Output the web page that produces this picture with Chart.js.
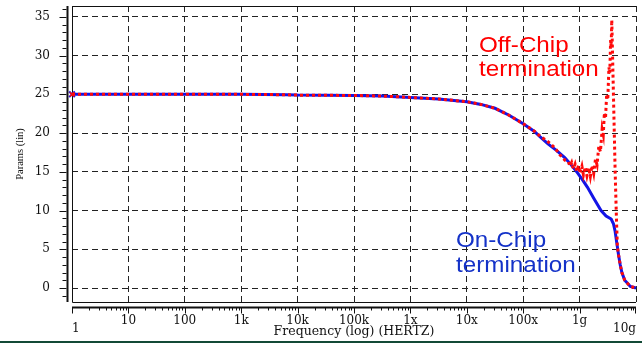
<!DOCTYPE html>
<html>
<head>
<meta charset="utf-8">
<script src="https://cdn.jsdelivr.net/npm/chart.js@4.4.1/dist/chart.umd.min.js"></script>
<style>
  html, body { margin: 0; padding: 0; background: #ffffff; }
  canvas { display: block; }
</style>
</head>
<body>
<canvas id="c" width="642" height="344"></canvas>
<script>
// Axis ticks
const freqTickValues = [1, 10, 100, 1e3, 1e4, 1e5, 1e6, 1e7, 1e8, 1e9, 1e10];
const freqTickLabels = ['1', '10', '100', '1k', '10k', '100k', '1x', '10x', '100x', '1g', '10g'];
const paramTickValues = [0, 5, 10, 15, 20, 25, 30, 35];

// On-chip termination sweep (Hz, value)
const onChipFreq = [1, 10, 100, 1e3, 6.3e3, 1e4, 1e5, 3.16e5, 1e6, 3.16e6, 1e7, 1.78e7, 3.16e7, 5.62e7,
  1e8, 1.58e8, 2e8, 2.75e8, 3.98e8, 5.5e8, 7.08e8, 9.12e8, 1.12e9, 1.38e9, 1.78e9, 2.4e9, 2.95e9,
  3.63e9, 3.98e9, 4.27e9, 4.57e9, 4.9e9, 5.25e9, 5.62e9, 6.31e9, 7.94e9, 1e10];
const onChipVals = [25.0, 25.0, 25.0, 25.0, 24.95, 24.9, 24.85, 24.78, 24.6, 24.4, 24.05, 23.7, 23.2, 22.3,
  21.2, 20.2, 19.5, 18.6, 17.7, 16.8, 15.9, 14.9, 14.0, 13.0, 11.6, 10.0, 9.3,
  8.9, 8.3, 7.3, 5.8, 4.3, 3.0, 2.0, 1.0, 0.2, 0.0];

// Off-chip termination sweep (Hz, value)
const offChipFreq = [1, 10, 100, 1e3, 6.3e3, 1e4, 1e5, 3.16e5, 1e6, 3.16e6, 1e7, 1.78e7, 3.16e7, 5.62e7,
  1e8, 1.58e8, 2e8, 2.75e8, 3.63e8, 4.47e8, 5.5e8, 6.31e8, 6.76e8, 7.24e8, 7.76e8, 8.32e8, 8.91e8,
  9.55e8, 1.02e9, 1.10e9, 1.17e9, 1.26e9, 1.35e9, 1.45e9, 1.55e9, 1.66e9, 1.78e9, 1.91e9, 2.04e9,
  2.19e9, 2.34e9, 2.51e9, 2.63e9, 2.75e9, 2.88e9, 3.02e9, 3.16e9, 3.31e9, 3.43e9, 3.55e9, 3.63e9,
  3.72e9, 3.98e9, 4.27e9, 4.52e9, 4.68e9, 4.9e9, 5.25e9, 5.62e9, 6.31e9, 7.94e9, 1e10];
const offChipVals = [25.0, 25.0, 25.0, 25.0, 24.95, 24.9, 24.85, 24.78, 24.6, 24.4, 24.05, 23.7, 23.2, 22.3,
  21.2, 20.25, 19.6, 18.9, 18.1, 17.2, 16.5, 16.3, 15.7, 16.2, 15.4, 16.0, 15.1,
  15.8, 14.8, 15.7, 14.6, 15.6, 14.5, 15.5, 14.4, 15.8, 14.8, 16.6, 15.9,
  18.3, 17.6, 20.5, 19.8, 22.6, 21.9, 25.0, 24.3, 28.5, 27.8, 32.0, 31.2,
  34.6, 25.0, 15.0, 8.5, 5.3, 4.3, 3.0, 2.0, 1.0, 0.2, 0.0];

const toPoints = (xs, ys) => xs.map((x, i) => ({ x: x, y: ys[i] }));

const BLUE = '#1414e6';
const RED = '#ff0a0a';
const INK = '#111111';

// Frame, offset axis lines and minor ticks
const axisDecor = {
  id: 'axisDecor',
  beforeDatasetsDraw(chart) {
    const { ctx, chartArea: a, scales: { x, y } } = chart;
    ctx.save();
    ctx.strokeStyle = INK;
    ctx.lineWidth = 1;
    ctx.beginPath();
    ctx.moveTo(a.left + 0.5, a.bottom + 0.5);
    ctx.lineTo(a.left + 0.5, a.top + 0.5);
    ctx.lineTo(a.right, a.top + 0.5);
    ctx.moveTo(a.left + 0.5, a.bottom + 0.5);
    ctx.lineTo(a.right, a.bottom + 0.5);
    ctx.stroke();

    // left axis
    const ax = a.left - 4.5;
    ctx.lineWidth = 2;
    ctx.beginPath();
    ctx.moveTo(ax, a.top);
    ctx.lineTo(ax, a.bottom);
    ctx.stroke();
    ctx.lineWidth = 1;
    ctx.beginPath();
    for (let v = Math.ceil(y.min); v <= Math.floor(y.max); v++) {
      const py = Math.round(y.getPixelForValue(v)) + 0.5;
      const len = v % 5 === 0 ? 7 : 4;
      ctx.moveTo(ax - 1, py);
      ctx.lineTo(ax - 1 - len, py);
    }
    ctx.stroke();

    // bottom axis
    const by = a.bottom + 5.5;
    ctx.lineWidth = 2;
    ctx.beginPath();
    ctx.moveTo(a.left, by);
    ctx.lineTo(a.right, by);
    ctx.stroke();
    ctx.lineWidth = 1;
    ctx.beginPath();
    for (let d = 1; d <= 1e10; d *= 10) {
      for (let m = 1; m <= 9; m++) {
        const v = d * m;
        if (v > 1e10) break;
        let px = Math.round(x.getPixelForValue(v)) + 0.5;
        if (px > a.right - 0.5) px = a.right - 0.5;
        const len = m === 1 ? 6 : 3;
        ctx.moveTo(px, by);
        ctx.lineTo(px, by + len);
      }
    }
    ctx.stroke();

    // slide rule at the bottom
    ctx.fillStyle = '#134a36';
    ctx.fillRect(0, 341, chart.width, 2);
    ctx.restore();
  }
};

// Curve annotations
const curveNotes = [
  { lines: ['Off-Chip', 'termination'], x: 479, y: [52, 76], color: '#ff0000' },
  { lines: ['On-Chip', 'termination'], x: 456, y: [247, 272], color: '#1432c8' }
];
const notesPlugin = {
  id: 'notes',
  afterDatasetsDraw(chart) {
    const ctx = chart.ctx;
    ctx.save();
    ctx.font = '22px "Liberation Sans", Arial, sans-serif';
    ctx.textBaseline = 'alphabetic';
    ctx.textAlign = 'left';
    curveNotes.forEach(n => {
      ctx.fillStyle = n.color;
      n.lines.forEach((t, i) => {
        ctx.save();
        ctx.translate(n.x, n.y[i]);
        ctx.scale(1.1, 1);
        ctx.fillText(t, 0, 0);
        ctx.restore();
      });
    });
    ctx.restore();
  }
};

const firstPointOnly = r => (c => c.dataIndex === 0 ? r : 0);

new Chart(document.getElementById('c'), {
  type: 'line',
  data: {
    datasets: [
      {
        label: 'Off-Chip termination',
        data: toPoints(offChipFreq, offChipVals),
        borderColor: RED,
        backgroundColor: RED,
        borderWidth: 3,
        borderDash: [3, 3],
        pointStyle: 'crossRot',
        pointRadius: firstPointOnly(3),
        pointBorderWidth: 1.5,
        pointBorderColor: RED,
        tension: 0,
        clip: false,
        order: 0
      },
      {
        label: 'On-Chip termination',
        data: toPoints(onChipFreq, onChipVals),
        borderColor: BLUE,
        backgroundColor: BLUE,
        borderWidth: 3,
        pointStyle: 'crossRot',
        pointRadius: firstPointOnly(4),
        pointBorderWidth: 2,
        pointBorderColor: BLUE,
        tension: 0,
        clip: false,
        order: 1
      }
    ]
  },
  options: {
    responsive: false,
    animation: false,
    devicePixelRatio: 1,
    layout: { padding: { top: 4, right: 0, bottom: 0, left: 0 } },
    plugins: { legend: { display: false }, tooltip: { enabled: false } },
    scales: {
      x: {
        type: 'logarithmic',
        min: 1,
        max: 1e10,
        afterBuildTicks: s => { s.ticks = freqTickValues.map(v => ({ value: v })); },
        afterFit: s => { s.height = 42; s.paddingLeft = 0; s.paddingRight = 0; },
        grid: { color: '#222', lineWidth: 1, drawTicks: false },
        border: { display: false, dash: [6, 4] },
        ticks: {
          autoSkip: false,
          maxRotation: 0,
          minRotation: 0,
          align: 'inner',
          padding: 15,
          color: INK,
          font: { family: '"DejaVu Serif", serif', size: 12, lineHeight: 0.65 },
          callback: function (value, index, ticks) {
            const i = freqTickValues.indexOf(value);
            const label = i >= 0 ? freqTickLabels[i] : '';
            return (index === 0 || index === ticks.length - 1) ? ['', label] : label;
          }
        },
        title: {
          display: true,
          text: 'Frequency (log) (HERTZ)',
          color: INK,
          font: { family: '"DejaVu Serif", serif', size: 12.5 },
          padding: { top: 0, bottom: 5 }
        }
      },
      y: {
        type: 'linear',
        min: -1.8,
        max: 36.4,
        afterBuildTicks: s => { s.ticks = paramTickValues.map(v => ({ value: v })); },
        afterFit: s => { s.width = 72; s.paddingTop = 0; s.paddingBottom = 0; },
        grid: { color: '#222', lineWidth: 1, drawTicks: false },
        border: { display: false, dash: [6, 4] },
        ticks: {
          padding: 22,
          color: INK,
          font: { family: '"DejaVu Serif", serif', size: 12 },
          callback: v => String(v)
        },
        title: {
          display: true,
          text: 'Params (lin)',
          color: INK,
          font: { family: '"Liberation Serif", serif', size: 10.5 },
          padding: { top: 14, bottom: 0 }
        }
      }
    }
  },
  plugins: [axisDecor, notesPlugin]
});
</script>
</body>
</html>
